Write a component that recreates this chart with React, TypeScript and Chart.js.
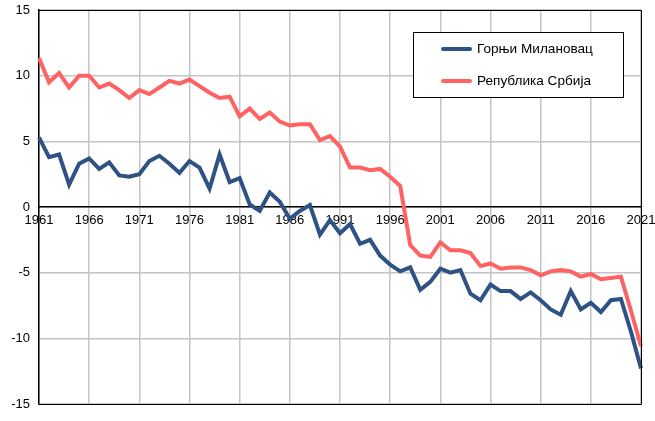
import React, { useEffect, useRef } from "react";
import { Chart, registerables } from "chart.js";

Chart.register(...registerables);

const years: string[] = [];
for (let y = 1961; y <= 2021; y++) years.push(String(y));

const seriesNames = ["Горњи Милановац", "Република Србија"];

const gornjiMilanovac = [
  5.3, 3.8, 4.0, 1.7, 3.3, 3.7, 2.9, 3.4, 2.4, 2.3,
  2.5, 3.5, 3.9, 3.3, 2.6, 3.5, 3.0, 1.4, 4.0, 1.9,
  2.2, 0.2, -0.3, 1.1, 0.4, -0.9, -0.3, 0.15, -2.1, -1.0,
  -2.0, -1.3, -2.8, -2.5, -3.7, -4.4, -4.9, -4.6, -6.3, -5.7,
  -4.7, -5.0, -4.8, -6.6, -7.1, -5.9, -6.4, -6.4, -7.0, -6.5,
  -7.1, -7.8, -8.2, -6.4, -7.8, -7.3, -8.0, -7.1, -7.0, -9.5,
  -12.3,
];

const srbija = [
  11.35, 9.5, 10.2, 9.1, 10.0, 10.0, 9.1, 9.4, 8.9, 8.3,
  8.9, 8.6, 9.1, 9.6, 9.4, 9.7, 9.2, 8.7, 8.3, 8.4,
  6.9, 7.5, 6.7, 7.2, 6.5, 6.2, 6.3, 6.3, 5.1, 5.4,
  4.6, 3.0, 3.0, 2.8, 2.9, 2.3, 1.6, -2.9, -3.7, -3.8,
  -2.7, -3.3, -3.3, -3.5, -4.5, -4.3, -4.7, -4.6, -4.6, -4.8,
  -5.2, -4.9, -4.8, -4.9, -5.3, -5.1, -5.5, -5.4, -5.3, -7.9,
  -10.6,
];

const colors = ["#2E5283", "#FF6262"];
const FONT = "'Liberation Sans', Arial, sans-serif";

const frameAndLegend = {
  id: "frameAndLegend",
  afterDatasetsDraw(chart: any) {
    const { ctx, chartArea } = chart;
    const { left, right, top, bottom } = chartArea;
    ctx.save();
    ctx.strokeStyle = "#000";
    ctx.lineWidth = 1;
    ctx.beginPath();
    ctx.moveTo(Math.round(left) - 0.5, Math.round(top) + 0.5);
    ctx.lineTo(Math.round(right) + 0.5, Math.round(top) + 0.5);
    ctx.lineTo(Math.round(right) + 0.5, Math.round(bottom) + 0.5);
    ctx.lineTo(Math.round(left) - 0.5, Math.round(bottom) + 0.5);
    ctx.stroke();

    // legend box
    const bx = 413.5, by = 32.5, bw = 210, bh = 65;
    ctx.fillStyle = "#fff";
    ctx.fillRect(bx, by, bw, bh);
    ctx.strokeRect(bx, by, bw, bh);
    const rows = [49, 81];
    chart.data.datasets.forEach((ds: any, i: number) => {
      ctx.strokeStyle = ds.borderColor;
      ctx.lineWidth = 4;
      ctx.lineCap = "round";
      ctx.beginPath();
      ctx.moveTo(443, rows[i]);
      ctx.lineTo(470, rows[i]);
      ctx.stroke();
      ctx.fillStyle = "#000";
      ctx.font = `13.6px ${FONT}`;
      ctx.textBaseline = "middle";
      ctx.textAlign = "left";
      ctx.fillText(ds.label, 477, rows[i] + 0.5);
    });
    ctx.restore();
  },
};

export default function App() {
  const ref = useRef<HTMLCanvasElement>(null);
  useEffect(() => {
    document.body.style.margin = "0";
    const chart = new Chart(ref.current as HTMLCanvasElement, {
      type: "line",
      data: {
        labels: years,
        datasets: [
          {
            label: seriesNames[0],
            data: gornjiMilanovac,
            borderColor: colors[0],
            backgroundColor: colors[0],
            borderWidth: 4,
            pointRadius: 0,
            tension: 0,
          },
          {
            label: seriesNames[1],
            data: srbija,
            borderColor: colors[1],
            backgroundColor: colors[1],
            borderWidth: 4,
            pointRadius: 0,
            tension: 0,
          },
        ],
      },
      options: {
        animation: false,
        responsive: false,
        maintainAspectRatio: false,
        layout: { padding: { left: 0, right: 14, top: 10, bottom: 17 } },
        plugins: {
          legend: { display: false },
          tooltip: { enabled: false },
        },
        scales: {
          x: {
            type: "category",
            position: { y: 0 } as any,
            offset: false,
            afterFit: (s: any) => {
              s.paddingLeft = 0;
              s.paddingRight = 0;
            },
            grid: {
              drawTicks: false,
              lineWidth: 1.5,
              color: (c: any) => (c.index % 5 === 0 ? "#c4c4c4" : "rgba(0,0,0,0)"),
            },
            border: { display: true, color: "#000", width: 1.5 },
            ticks: {
              autoSkip: false,
              maxRotation: 0,
              padding: 6,
              color: "#000",
              font: { family: FONT, size: 13 },
              callback: (_v: any, i: number) => (i % 5 === 0 ? years[i] : ""),
            },
          },
          y: {
            min: -15,
            max: 15,
            afterFit: (s: any) => {
              s.width = 39;
              s.paddingTop = 0;
              s.paddingBottom = 0;
            },
            grid: { drawTicks: false, lineWidth: 1.5, color: "#c4c4c4" },
            border: { display: true, color: "#000", width: 1.5 },
            ticks: {
              stepSize: 5,
              padding: 9,
              color: "#000",
              font: { family: FONT, size: 13 },
            },
          },
        },
      },
      plugins: [frameAndLegend],
    });
    return () => chart.destroy();
  }, []);
  return (
    <div style={{ width: 655, height: 421 }}>
      <canvas ref={ref} width={655} height={421} style={{ display: "block" }} />
    </div>
  );
}
